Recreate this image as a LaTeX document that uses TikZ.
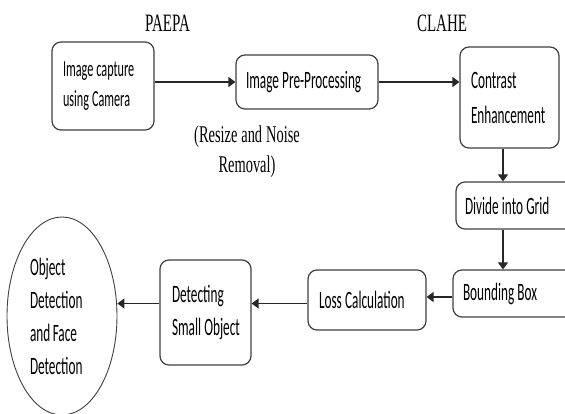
\documentclass[tikz,border=0pt]{standalone}
\usepackage{fontspec}
\usetikzlibrary{arrows.meta,shapes.geometric}
\newfontfamily\boxfont[FakeStretch=0.53]{Carlito}
\newfontfamily\labfont[FakeStretch=0.6]{Liberation Serif}

\begin{document}
\begin{tikzpicture}[x=1pt,y=-1pt,
  tightwords/.style={execute at begin node={\hyphenpenalty=10000\spaceskip=#1\xspaceskip=#1\relax}},
  stage/.style={draw=black!75, line width=1.2pt, rounded corners=9pt, align=left,
    inner ysep=0pt, font=\boxfont\fontsize{25}{33}\selectfont, text=black, tightwords=3.2pt},
  flow/.style={draw=black!85, line width=1.3pt, -{Triangle[length=7pt,width=10pt]}},
  caption/.style={font=\labfont\fontsize{25}{30}\selectfont, inner sep=0pt, tightwords=4pt}]
\useasboundingbox (0,0) rectangle (565,414);
\clip (0,0) rectangle (565,414);
\fill[white] (0,0) rectangle (565,414);

% processing stages
\node[stage, text width=80pt, inner xsep=11pt, minimum height=88pt,
      font=\boxfont\fontsize{23}{30}\selectfont, tightwords=3pt] (cap) at (103,86) {Image capture\\using Camera};
\node[stage, text width=122pt, inner xsep=10pt, minimum height=54pt] (pre) at (307,82) {Image Pre-Processing};
\node[stage, text width=77pt, inner xsep=11pt, minimum height=101pt,
      font=\boxfont\fontsize{25}{35}\selectfont] (clahe) at (509.5,97.5) {Contrast\\Enhancement};
\node[stage, text width=106pt, inner xsep=9pt, minimum height=47pt] (grid) at (518,205.5) {Divide~into~Grid};
\node[stage, text width=104pt, inner xsep=10pt, minimum height=47pt] (bbox) at (515,293.5) {Bounding~Box};
\node[stage, text width=96pt, inner xsep=11pt, minimum height=60pt] (loss) at (367,300) {Loss~Calculation};
\node[stage, text width=67pt, inner xsep=12pt, minimum height=105pt] (small) at (205.5,312.5) {Detecting\\Small~Object};
\node[ellipse, draw=black!75, line width=0.9pt, minimum width=110pt, minimum height=198pt,
      inner sep=0pt, text width=64pt, align=left, tightwords=2.5pt,
      font=\boxfont\fontsize{25}{33}\selectfont] (final) at (62,316) {Object\\Detection\\and~Face\\Detection};

% captions
\node[caption, anchor=base] (paepa) at (167.5,32) {PAEPA};
\node[caption, anchor=base] (clahelab) at (442,32) {CLAHE};
\node[caption, align=center, font=\labfont\fontsize{24}{30}\selectfont] (resize) at (247,152) {(Resize and Noise\\Removal)};

% connectors
\coordinate (colx) at (503,0);
\coordinate (rowa) at (0,297);
\coordinate (rowb) at (0,303.5);
\draw[flow] (cap.east |- pre.west) -- (pre.west);
\draw[flow] (pre.east) -- (pre.east -| clahe.west);
\draw[flow] (clahe.south -| colx) -- (grid.north -| colx);
\draw[flow] (grid.south -| colx) -- (bbox.north -| colx);
\draw[flow] (bbox.west |- rowa) -- (loss.east |- rowa);
\draw[flow] (loss.west |- rowb) -- (small.east |- rowb);
\draw[flow] (small.west |- rowb) -- (final.east |- rowb);
\end{tikzpicture}
\end{document}
